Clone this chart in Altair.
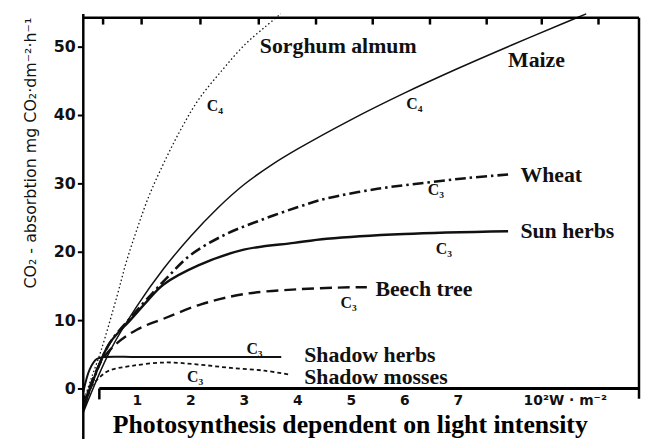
import altair as alt
import pandas as pd

# ---- data (x in 10^2 W/m^2, y in mg CO2 dm^-2 h^-1) ----
sorghum_x = [0, 0.15, 0.33, 0.63, 0.8, 1.0, 1.22, 1.5, 1.81, 2.15, 2.6, 3.02, 3.4, 3.69]
sorghum_y = [-2, 1.5, 5.5, 13.5, 18.4, 23.2, 28, 32.9, 37.7, 42.2, 46.6, 50.3, 52.9, 54.8]

maize_x = [0, 0.5, 1.0, 1.5, 2.0, 2.5, 3.0, 3.5, 4.0, 5.0, 6.0, 7.0, 8.0, 9.0, 9.4]
maize_y = [-3.5, 5.5, 12, 17.5, 22.2, 26.3, 29.8, 32.6, 35.0, 39.3, 43.2, 46.8, 50.2, 53.5, 54.8]

wheat_x = [0, 0.2, 0.5, 0.9, 1.3, 1.59, 2.0, 2.65, 3.31, 4.0, 4.55, 5.5, 6.4, 7.2, 7.94]
wheat_y = [-3, 1.5, 6.7, 10.5, 14, 16.4, 19.5, 22.5, 24.6, 26.5, 27.8, 29.2, 30.1, 30.8, 31.3]

sun_x = [0, 0.2, 0.48, 0.89, 1.22, 1.5, 2.15, 3.0, 3.94, 4.55, 6.0, 7.94]
sun_y = [-3, 1.5, 6.5, 10.1, 13, 15.2, 18, 20.3, 21.3, 21.9, 22.6, 23]

beech_x = [0, 0.3, 0.57, 1.0, 1.5, 2.2, 3.0, 4.0, 5.0, 5.3]
beech_y = [-2.5, 3.5, 6.2, 8.6, 10.2, 12.3, 13.8, 14.5, 14.8, 14.8]

sh_herbs_x = [0, 0.12, 0.25, 0.4, 1.0, 2.0, 3.0, 3.7]
sh_herbs_y = [-0.5, 2.8, 4.3, 4.6, 4.6, 4.6, 4.6, 4.6]

sh_mosses_x = [0, 0.15, 0.3, 0.48, 0.9, 1.54, 2.15, 2.76, 3.39, 3.87]
sh_mosses_y = [-1.5, 0.3, 1.6, 2.6, 3.3, 3.8, 3.5, 3.0, 2.6, 2.0]

# curve names (labels) and their positions
name_text = ["Sorghum almum", "Maize", "Wheat", "Sun herbs", "Beech tree", "Shadow herbs", "Shadow mosses"]
name_x = [3.30, 7.94, 8.17, 8.17, 5.46, 4.13, 4.13]
name_y = [50.1, 48.1, 31.2, 23.0, 14.6, 4.9, 1.7]

ctype_text = ["C₄", "C₄", "C₃", "C₃", "C₃", "C₃", "C₃"]
ctype_x = [2.46, 6.19, 6.59, 6.74, 4.96, 3.2, 2.09]
ctype_y = [41.3, 41.6, 29.0, 20.4, 12.5, 5.8, 1.7]

y_ticks = [0, 10, 20, 30, 40, 50]
x_ticks = [1, 2, 3, 4, 5, 6, 7, 9]
x_unit_label = "10²W · m⁻²"
top_ticks = [0.37, 1.09, 2.19, 3.28, 4.35, 5.41, 6.48, 7.54, 8.57, 9.63]

X_MAX = 569 / 54.0
Y_MAX = 378 / 6.9
Y_MIN = -8.4
Y_TOP = Y_MAX - 0.55     # top border drawn just inside the plot top
X_RIGHT = X_MAX - 0.15   # right border drawn just inside the plot right

xscale = alt.Scale(domain=[0, X_MAX], nice=False, zero=False)
yscale = alt.Scale(domain=[0, Y_MAX], nice=False, zero=False)

xaxis = alt.Axis(
    values=x_ticks, labelExpr=f"datum.value == 9 ? '{x_unit_label}' : datum.label",
    domain=False, ticks=False, grid=False, labelPadding=5,
    labelFont="DejaVu Sans", labelFontWeight="bold", labelFontSize=14, labelColor="#111",
    title="Photosynthesis dependent on light intensity",
    titleFont="Liberation Serif", titleFontWeight="bold", titleFontSize=26, titleColor="#000",
    titleX=269, titleY=44, titleAlign="center", titleBaseline="alphabetic",
)
yaxis = alt.Axis(
    values=y_ticks, domain=False, grid=False, tickSize=6, tickWidth=2, tickColor="#000",
    labelPadding=2, labelFont="DejaVu Sans", labelFontWeight="bold", labelFontSize=16,
    labelColor="#111",
    title="CO₂ - absorbtion mg CO₂·dm⁻²·h⁻¹",
    titleFont="DejaVu Sans", titleFontWeight="normal", titleFontSize=16, titleColor="#111",
    titleX=-53, titleY=140, titleAngle=270, titleAlign="center", titleBaseline="middle",
)

X = alt.X("x:Q", scale=xscale, axis=xaxis)
Y = alt.Y("y:Q", scale=yscale, axis=yaxis)

series = [
    ("Sorghum almum", sorghum_x, sorghum_y, 1.3, [1.5, 2.5]),
    ("Maize", maize_x, maize_y, 1.5, None),
    ("Wheat", wheat_x, wheat_y, 2.6, [11, 4, 2.5, 4]),
    ("Sun herbs", sun_x, sun_y, 2.4, None),
    ("Beech tree", beech_x, beech_y, 2.4, [12, 6]),
    ("Shadow herbs", sh_herbs_x, sh_herbs_y, 2.0, None),
    ("Shadow mosses", sh_mosses_x, sh_mosses_y, 1.8, [4, 3]),
]

layers = []
for name, xs, ys, sw, dash in series:
    df = pd.DataFrame({"x": xs, "y": ys, "name": name})
    kw = dict(color="#111", strokeWidth=sw, interpolate="catmull-rom", clip=False)
    if dash:
        kw["strokeDash"] = dash
    layers.append(alt.Chart(df).mark_line(**kw).encode(x=X, y=Y))

# horizontal frame lines: bottom axis line (starts a little right of 0), top border
hlines = pd.DataFrame({"x": [0.3, 0.0], "x2": [X_RIGHT, X_RIGHT], "y": [0.0, Y_TOP], "w": [3.0, 2.5]})
layers.append(
    alt.Chart(hlines).mark_rule(color="#000", clip=False).encode(
        x=X, x2="x2:Q", y=Y, strokeWidth=alt.StrokeWidth("w:Q", scale=None)
    )
)
# vertical frame lines: left axis line (reaches below 0), right border, small bottom tick
vlines = pd.DataFrame({"x": [0.0, X_RIGHT, 0.3], "y": [Y_MIN, -1.5, 0.0], "y2": [Y_MAX, Y_TOP, -1.6],
                       "w": [2.5, 2.5, 2.5]})
layers.append(
    alt.Chart(vlines).mark_rule(color="#000", clip=False).encode(
        x=X, y=Y, y2="y2:Q", strokeWidth=alt.StrokeWidth("w:Q", scale=None)
    )
)

# inward ticks along the top border
topdf = pd.DataFrame({"x": top_ticks, "y": [Y_TOP] * len(top_ticks), "y2": [Y_TOP - 1.0] * len(top_ticks)})
layers.append(alt.Chart(topdf).mark_rule(color="#000", strokeWidth=2.5, clip=False).encode(x=X, y=Y, y2="y2:Q"))

names = pd.DataFrame({"x": name_x, "y": name_y, "t": name_text})
layers.append(
    alt.Chart(names).mark_text(
        align="left", baseline="middle", font="Liberation Serif", fontWeight="bold",
        fontSize=22, color="#111"
    ).encode(x=X, y=Y, text="t:N")
)
ctypes = pd.DataFrame({"x": ctype_x, "y": ctype_y, "t": ctype_text})
layers.append(
    alt.Chart(ctypes).mark_text(
        align="center", baseline="middle", font="Liberation Serif", fontWeight="bold",
        fontSize=16, color="#111"
    ).encode(x=X, y=Y, text="t:N")
)

chart = alt.layer(*layers).properties(
    width=569, height=378,
    autosize=alt.AutoSizeParams(type="none"),
    padding={"left": 76, "top": 4, "right": 3, "bottom": 49},
    background="white",
).configure_view(stroke=None)

chart.save("out.html", embed_options={"renderer": "svg", "actions": False})
